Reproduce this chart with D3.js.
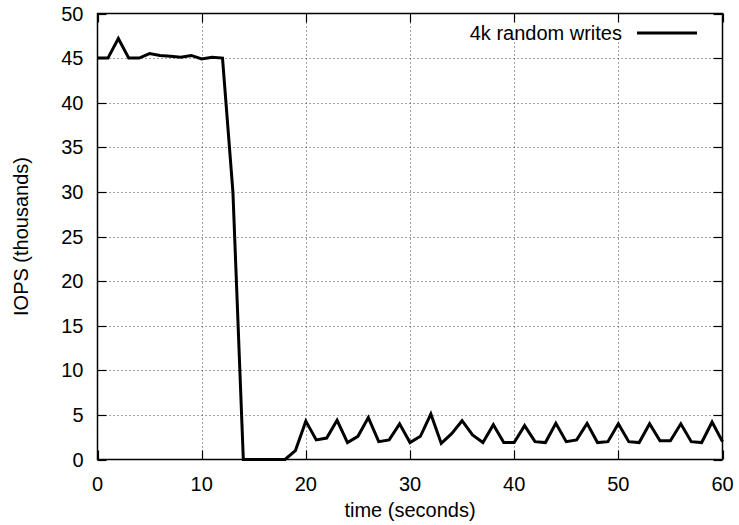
<!DOCTYPE html>
<html>
<head>
<meta charset="utf-8">
<script src="https://cdn.jsdelivr.net/npm/d3@7"></script>
<style>
  body { margin: 0; background: #fff; }
  text { font-family: "Liberation Sans", Arial, sans-serif; fill: #000; }
</style>
</head>
<body>
<div id="chart"></div>
<script>
// seconds since start
const seconds = [0, 1, 2, 3, 4, 5, 6, 7, 8, 9, 10, 11, 12, 13, 14, 15, 16, 17, 18, 19,
  20, 21, 22, 23, 24, 25, 26, 27, 28, 29, 30, 31, 32, 33, 34, 35, 36, 37, 38, 39,
  40, 41, 42, 43, 44, 45, 46, 47, 48, 49, 50, 51, 52, 53, 54, 55, 56, 57, 58, 59, 60];
// IOPS in thousands
const iops = [45, 45, 47.2, 45, 45, 45.5, 45.3, 45.2, 45.1, 45.3, 44.9, 45.1, 45.0, 30, 0, 0, 0, 0, 0, 1.0,
  4.3, 2.2, 2.4, 4.4, 1.9, 2.6, 4.7, 2.0, 2.2, 4.0, 1.9, 2.6, 5.1, 1.8, 2.9, 4.35, 2.75, 1.9, 3.9, 1.9,
  1.9, 3.8, 2.0, 1.9, 4.05, 2.0, 2.2, 4.05, 1.9, 2.0, 4.0, 2.0, 1.9, 4.0, 2.1, 2.1, 4.0, 2.0, 1.9, 4.2, 2.0];
const xTicks = [0, 10, 20, 30, 40, 50, 60];
const yTicks = [0, 5, 10, 15, 20, 25, 30, 35, 40, 45, 50];
const seriesName = '4k random writes';

const width = 739,
  height = 525,
  margin = { top: 13.5, right: 16.5, bottom: 65.5, left: 97.5 };

const svg = d3.select('#chart').append('svg')
  .attr('width', width)
  .attr('height', height);

const x = d3.scaleLinear().domain([0, 60]).range([margin.left, width - margin.right]);
const y = d3.scaleLinear().domain([0, 50]).range([height - margin.bottom, margin.top]);

const fontSize = 20;
const tickLen = 9;

// grid
const grid = svg.append('g')
  .attr('stroke', '#444')
  .attr('stroke-width', 1)
  .attr('stroke-dasharray', '1,3');

grid.selectAll('.gx')
  .data(xTicks.slice(1, -1))
  .enter().append('line')
    .attr('x1', (d) => Math.round(x(d)) + 0.5)
    .attr('x2', (d) => Math.round(x(d)) + 0.5)
    .attr('y1', y(0))
    .attr('y2', y(50));

grid.selectAll('.gy')
  .data(yTicks.slice(1, -1))
  .enter().append('line')
    .attr('x1', x(0))
    .attr('x2', x(60))
    .attr('y1', (d) => Math.round(y(d)) + 0.5)
    .attr('y2', (d) => Math.round(y(d)) + 0.5);

// key area hides grid
svg.append('rect')
  .attr('x', 452)
  .attr('y', y(50) + 1)
  .attr('width', 258)
  .attr('height', 24)
  .attr('fill', '#fff');

// mirrored inward ticks
const ticks = svg.append('g').attr('stroke', '#000').attr('stroke-width', 1.2);
xTicks.forEach((d) => {
  const px = Math.round(x(d)) + 0.5;
  ticks.append('line').attr('x1', px).attr('x2', px).attr('y1', y(0)).attr('y2', y(0) - tickLen);
  ticks.append('line').attr('x1', px).attr('x2', px).attr('y1', y(50)).attr('y2', y(50) + tickLen);
});
yTicks.forEach((d) => {
  const py = Math.round(y(d)) + 0.5;
  ticks.append('line').attr('x1', x(0)).attr('x2', x(0) + tickLen).attr('y1', py).attr('y2', py);
  ticks.append('line').attr('x1', x(60)).attr('x2', x(60) - tickLen).attr('y1', py).attr('y2', py);
});

// tick labels
svg.append('g').selectAll('text')
  .data(xTicks)
  .enter().append('text')
    .attr('x', (d) => x(d))
    .attr('y', y(0) + 24)
    .attr('dy', '0.35em')
    .attr('text-anchor', 'middle')
    .style('font-size', fontSize + 'px')
    .text((d) => d);

svg.append('g').selectAll('text')
  .data(yTicks)
  .enter().append('text')
    .attr('x', x(0) - 14)
    .attr('y', (d) => y(d))
    .attr('dy', '0.35em')
    .attr('text-anchor', 'end')
    .style('font-size', fontSize + 'px')
    .text((d) => d);

// axis titles
svg.append('text')
  .attr('x', (x(0) + x(60)) / 2)
  .attr('y', 510)
  .attr('dy', '0.35em')
  .attr('text-anchor', 'middle')
  .style('font-size', fontSize + 'px')
  .text('time (seconds)');

svg.append('text')
  .attr('transform', `translate(21,${(y(0) + y(50)) / 2}) rotate(-90)`)
  .attr('dy', '0.35em')
  .attr('text-anchor', 'middle')
  .style('font-size', fontSize + 'px')
  .text('IOPS (thousands)');

// series
const line = d3.line()
  .x((d) => x(d[0]))
  .y((d) => y(d[1]));

svg.append('path')
  .datum(d3.zip(seconds, iops))
  .attr('d', line)
  .attr('fill', 'none')
  .attr('stroke', '#000')
  .attr('stroke-width', 3)
  .attr('stroke-linejoin', 'miter');

// border
svg.append('rect')
  .attr('x', x(0))
  .attr('y', y(50))
  .attr('width', x(60) - x(0))
  .attr('height', y(0) - y(50))
  .attr('fill', 'none')
  .attr('stroke', '#000')
  .attr('stroke-width', 1.5);

// key
const key = svg.append('g');
key.append('text')
  .attr('x', 622)
  .attr('y', 33)
  .attr('dy', '0.35em')
  .attr('text-anchor', 'end')
  .style('font-size', fontSize + 'px')
  .text(seriesName);
key.append('line')
  .attr('x1', 637)
  .attr('x2', 697)
  .attr('y1', 33)
  .attr('y2', 33)
  .attr('stroke', '#000')
  .attr('stroke-width', 3);
</script>
</body>
</html>
